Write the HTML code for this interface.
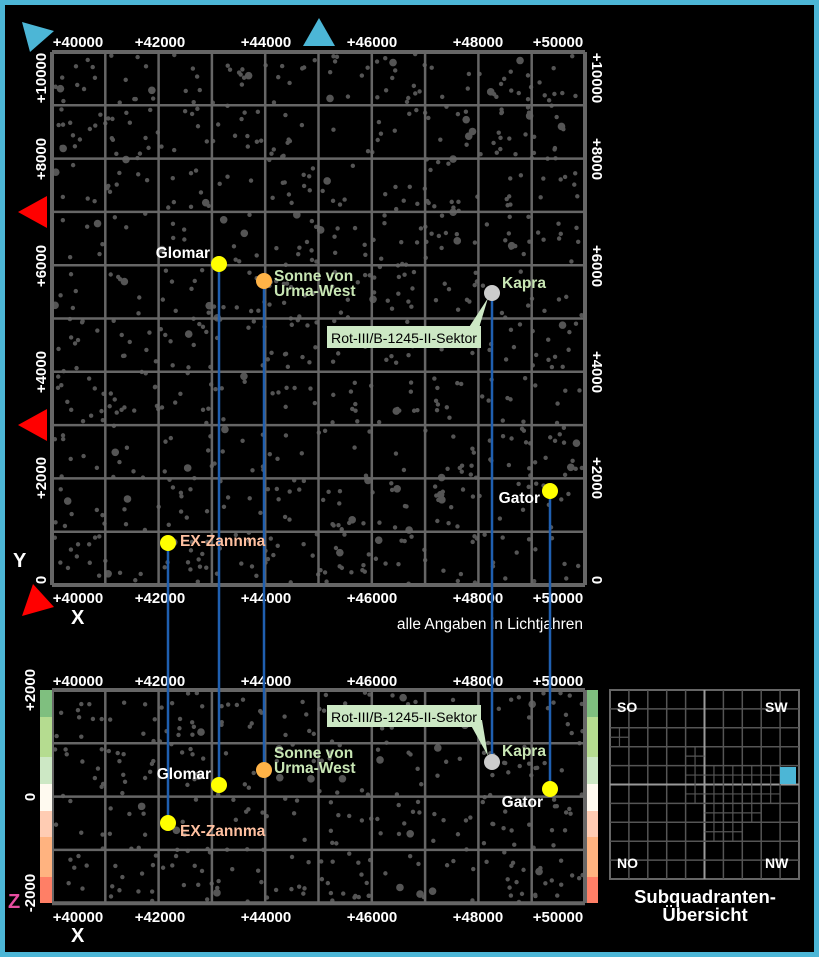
<!DOCTYPE html>
<html><head><meta charset="utf-8"><style>
html,body{margin:0;padding:0;background:#000;}
svg{display:block;font-family:"Liberation Sans",sans-serif;font-weight:bold;}
</style></head><body>
<svg id="s" width="819" height="957" xmlns="http://www.w3.org/2000/svg">
<rect x="2.5" y="2.5" width="814" height="952" fill="#000" stroke="#4cb6d6" stroke-width="5"/>
<g id="stars1"></g>
<g id="grids"></g>
<g>
<rect x="40" y="690" width="12" height="27" fill="#7fbf7f"/><rect x="40" y="717" width="12" height="40" fill="#b5dc90"/><rect x="40" y="757" width="12" height="27" fill="#cde8c5"/><rect x="40" y="784" width="12" height="27" fill="#fffaf0"/><rect x="40" y="811" width="12" height="26" fill="#ffccb3"/><rect x="40" y="837" width="12" height="40" fill="#ffb380"/><rect x="40" y="877" width="12" height="26" fill="#ff7f66"/>
<rect x="587" y="690" width="11" height="27" fill="#7fbf7f"/><rect x="587" y="717" width="11" height="40" fill="#b5dc90"/><rect x="587" y="757" width="11" height="27" fill="#cde8c5"/><rect x="587" y="784" width="11" height="27" fill="#fffaf0"/><rect x="587" y="811" width="11" height="26" fill="#ffccb3"/><rect x="587" y="837" width="11" height="40" fill="#ffb380"/><rect x="587" y="877" width="11" height="26" fill="#ff7f66"/>
</g>
<polygon points="22,22 54,31 30,52" fill="#4cb6d6"/>
<polygon points="303,46 319,18 335,46" fill="#4cb6d6"/>
<polygon points="18,212 47,196 47,228" fill="red"/>
<polygon points="18,425 47,409 47,441" fill="red"/>
<polygon points="33,584 54,607 22,616" fill="red"/>
<g fill="#fff" font-size="15" text-anchor="middle">
<text x="78" y="47">+40000</text><text x="160" y="47">+42000</text><text x="266" y="47">+44000</text><text x="372" y="47">+46000</text><text x="478" y="47">+48000</text><text x="558" y="47">+50000</text>
<text x="78" y="603">+40000</text><text x="160" y="603">+42000</text><text x="266" y="603">+44000</text><text x="372" y="603">+46000</text><text x="478" y="603">+48000</text><text x="558" y="603">+50000</text>
<text x="78" y="686">+40000</text><text x="160" y="686">+42000</text><text x="266" y="686">+44000</text><text x="372" y="686">+46000</text><text x="478" y="686">+48000</text><text x="558" y="686">+50000</text>
<text x="78" y="922">+40000</text><text x="160" y="922">+42000</text><text x="266" y="922">+44000</text><text x="372" y="922">+46000</text><text x="478" y="922">+48000</text><text x="558" y="922">+50000</text>
<text transform="translate(46,78) rotate(-90)">+10000</text><text transform="translate(46,159) rotate(-90)">+8000</text><text transform="translate(46,266) rotate(-90)">+6000</text><text transform="translate(46,372) rotate(-90)">+4000</text><text transform="translate(46,478) rotate(-90)">+2000</text><text transform="translate(46,580) rotate(-90)">0</text>
<text transform="translate(592,78) rotate(90)">+10000</text><text transform="translate(592,159) rotate(90)">+8000</text><text transform="translate(592,266) rotate(90)">+6000</text><text transform="translate(592,372) rotate(90)">+4000</text><text transform="translate(592,478) rotate(90)">+2000</text><text transform="translate(592,580) rotate(90)">0</text>
<text transform="translate(35,690) rotate(-90)">+2000</text><text transform="translate(35,797) rotate(-90)">0</text><text transform="translate(35,893) rotate(-90)">-2000</text>
</g>
<g fill="#fff" font-size="20">
<text x="13" y="567">Y</text><text x="71" y="624">X</text><text x="71" y="942">X</text>
</g>
<text x="8" y="908" fill="#e64ca0" font-size="20">Z</text>
<text x="583" y="629" fill="#fff" font-size="15.5" font-weight="normal" text-anchor="end">alle Angaben in Lichtjahren</text>
<g stroke="#1f5fb0" stroke-width="2.5">
<line x1="168" y1="543" x2="168" y2="823"/><line x1="219" y1="264" x2="219" y2="785"/><line x1="264" y1="281" x2="264" y2="770"/><line x1="492" y1="293" x2="492" y2="762"/><line x1="550" y1="491" x2="550" y2="789"/>
</g>
<polygon points="462,338 488,298 476,338" fill="#cce8c4"/>
<rect x="327" y="326" width="154" height="22" fill="#cce8c4"/>
<text x="331" y="343" font-size="14" fill="#000" font-weight="normal" textLength="146" lengthAdjust="spacingAndGlyphs">Rot-III/B-1245-II-Sektor</text>
<polygon points="468,720 488,756 482,720" fill="#cce8c4"/>
<rect x="327" y="705" width="154" height="22" fill="#cce8c4"/>
<text x="331" y="722" font-size="14" fill="#000" font-weight="normal" textLength="146" lengthAdjust="spacingAndGlyphs">Rot-III/B-1245-II-Sektor</text>
<g>
<circle cx="219" cy="264" r="8" fill="#ffff00"/><circle cx="264" cy="281" r="8" fill="#ffb347"/><circle cx="492" cy="293" r="8" fill="#cccccc"/><circle cx="550" cy="491" r="8" fill="#ffff00"/><circle cx="168" cy="543" r="8" fill="#ffff00"/>
<circle cx="219" cy="785" r="8" fill="#ffff00"/><circle cx="264" cy="770" r="8" fill="#ffb347"/><circle cx="492" cy="762" r="8" fill="#cccccc"/><circle cx="550" cy="789" r="8" fill="#ffff00"/><circle cx="168" cy="823" r="8" fill="#ffff00"/>
</g>
<g font-size="15.5">
<text x="210" y="258" fill="#fff" text-anchor="end">Glomar</text>
<text x="274" y="281" fill="#c8e6b4">Sonne von</text><text x="274" y="296" fill="#c8e6b4">Urma-West</text>
<text x="502" y="288" fill="#c8e6b4">Kapra</text>
<text x="540" y="503" fill="#fff" text-anchor="end">Gator</text>
<text x="180" y="546" fill="#ffc0a0">EX-Zannma</text>
<text x="211" y="779" fill="#fff" text-anchor="end">Glomar</text>
<text x="274" y="758" fill="#c8e6b4">Sonne von</text><text x="274" y="773" fill="#c8e6b4">Urma-West</text>
<text x="502" y="756" fill="#c8e6b4">Kapra</text>
<text x="543" y="807" fill="#fff" text-anchor="end">Gator</text>
<text x="180" y="836" fill="#ffc0a0">EX-Zannma</text>
</g>
<g id="sq"></g>
<g fill="#fff" font-size="14">
<text x="617" y="712">SO</text><text x="765" y="712">SW</text><text x="617" y="868">NO</text><text x="765" y="868">NW</text>
</g>
<g fill="#fff" font-size="18.5" text-anchor="middle">
<text x="705" y="903">Subquadranten-</text><text x="705" y="921">Übersicht</text>
</g>
<script>
(function(){
var NS="http://www.w3.org/2000/svg";
function el(p,t,a){var e=document.createElementNS(NS,t);for(var k in a)e.setAttribute(k,a[k]);p.appendChild(e);return e;}
var seed=12345;function r(){seed=(seed*1103515245+12345)%2147483648;return seed/2147483648;}
var s1=document.getElementById('stars1');
for(var i=0;i<850;i++){var big=r()<0.07;el(s1,'circle',{cx:54+r()*530,cy:54+r()*530,r:big?3.8:2.2,fill:'#555'});}
for(var i=0;i<340;i++){var big=r()<0.07;el(s1,'circle',{cx:54+r()*530,cy:692+r()*210,r:big?3.8:2.2,fill:'#555'});}
var g=document.getElementById('grids');
for(var i=0;i<=10;i++){var x=52+i*53.3;el(g,'line',{x1:x,y1:52,x2:x,y2:585,stroke:'#666','stroke-width':i%10?2.5:4});el(g,'line',{x1:52,y1:x,x2:585,y2:x,stroke:'#666','stroke-width':i%10?2.5:4});
el(g,'line',{x1:x,y1:690,x2:x,y2:903,stroke:'#666','stroke-width':i%10?2.5:4});}
for(var j=0;j<=4;j++){var y=690+j*53.3;el(g,'line',{x1:52,y1:y,x2:585,y2:y,stroke:'#666','stroke-width':j%4?2.5:4});}
var q=document.getElementById('sq');var x0=610,y0=690,c=18.9;
el(q,'rect',{x:x0,y:y0,width:189,height:189,fill:'none',stroke:'#666','stroke-width':2});
for(var i=1;i<10;i++){var b=i==5;el(q,'line',{x1:x0+i*c,y1:y0,x2:x0+i*c,y2:y0+189,stroke:b?'#999':'#555','stroke-width':b?2:1.5});el(q,'line',{x1:x0,y1:y0+i*c,x2:x0+189,y2:y0+i*c,stroke:b?'#999':'#555','stroke-width':b?2:1.5});}
var fine=[[0,2],[4,3],[4,4],[5,4],[6,4],[7,4],[8,4],[4,5],[5,5],[6,5],[7,5],[8,5],[5,6],[6,6],[7,6],[5,7],[6,7]];
fine.forEach(function(f){var cx=x0+f[0]*c+c/2,cy=y0+f[1]*c+c/2;el(q,'line',{x1:cx,y1:cy-c/2,x2:cx,y2:cy+c/2,stroke:'#555','stroke-width':1.2});el(q,'line',{x1:cx-c/2,y1:cy,x2:cx+c/2,y2:cy,stroke:'#555','stroke-width':1.2});});
el(q,'rect',{x:780,y:767,width:16,height:17,fill:'#4cb6d6'});
})();
</script>
</svg>
</body></html>
